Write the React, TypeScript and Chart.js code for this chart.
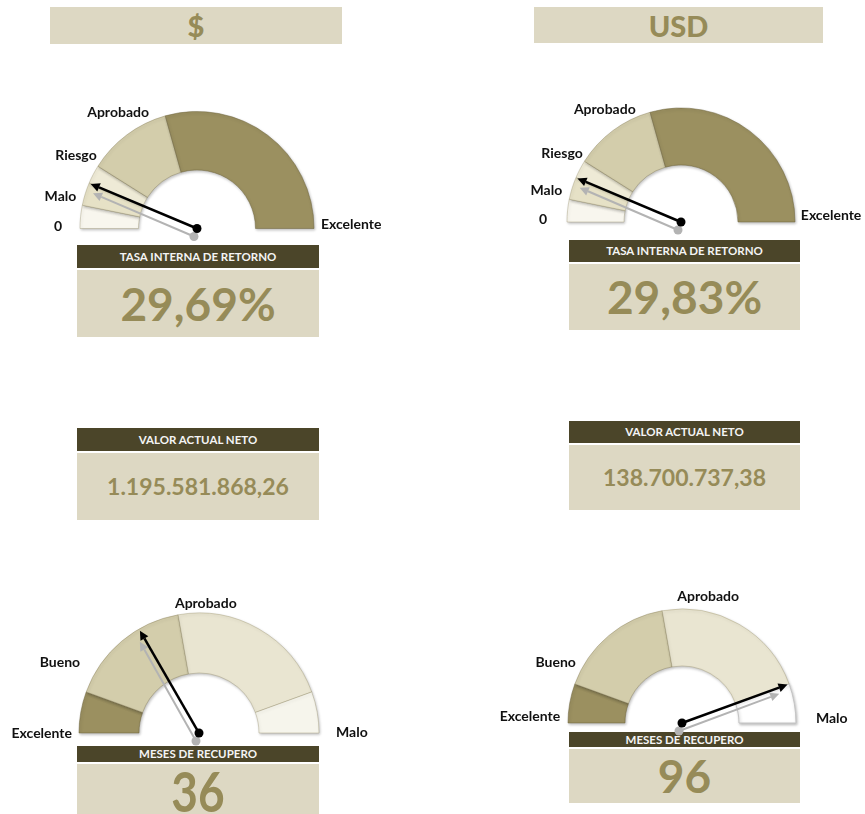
import React, { useEffect, useRef } from 'react';
import { Chart, registerables } from 'chart.js';
Chart.register(...registerables);

// ---------------- data ----------------
const currencyTitles = ['$', 'USD'];
const sectionTitles = ['TASA INTERNA DE RETORNO', 'VALOR ACTUAL NETO', 'MESES DE RECUPERO'];

// TIR gauge: band widths on the gauge scale (%), needle values
const tirBandValues = [15, 15, 12, 55, 138];
const tirBandNames = ['0-Malo', 'Malo', 'Riesgo', 'Aprobado', 'Excelente'];
const tirLabels = ['0', 'Malo', 'Riesgo', 'Aprobado', 'Excelente'];
const tirPesosValue = 29.69;
const tirUsdValue = 29.83;
const tirTexts = ['29,69%', '29,83%'];

// VAN
const vanTexts = ['1.195.581.868,26', '138.700.737,38'];

// Meses de recupero gauge: band widths (months), needle values
const mesesBandValues = [12, 36, 48, 12];
const mesesBandNames = ['Excelente', 'Bueno', 'Aprobado', 'Malo'];
const mesesLabels = ['Excelente', 'Bueno', 'Aprobado', 'Malo'];
const mesesPesosValue = 36;
const mesesUsdValue = 96;
const mesesTexts = ['36', '96'];

// ---------------- styles ----------------
const BOX = '#ddd8c3';
const HEAD = '#4b4529';
const OLIVE = '#968b58';
const FONT = 'Lato, "Open Sans", sans-serif';

const tirColors = ['#f8f6ee', '#e6e1c6', '#eeead6', '#d3cdab', '#9b9060'];
const tirBorders = ['rgba(150,140,100,0.35)', 'rgba(150,140,100,0.35)', 'rgba(150,140,100,0.35)', 'rgba(130,120,80,0.4)', 'rgba(110,100,60,0.5)'];
const mesesColorsL = ['#9b9060', '#d3cdab', '#e9e5d1', '#f6f5ec'];
const mesesColorsR = ['#9b9060', '#d3cdab', '#e9e5d1', '#ffffff'];
const mesesBordersL = ['rgba(110,100,60,0.5)', 'rgba(130,120,80,0.4)', 'rgba(150,140,100,0.35)', 'rgba(150,140,100,0.35)'];
const mesesBordersR = ['rgba(110,100,60,0.5)', 'rgba(130,120,80,0.4)', 'rgba(150,140,100,0.35)', '#c4c4c4'];

// label placement: [angle from left (deg), distance from centre (px)]
const tirPlaceL = [[1, 135], [15, 125], [36, 124], [67.5, 125.5], [178, 124]];
const tirPlaceR = [[1, 134], [15, 123], [35, 120], [68, 121], [177, 120]];
const mesesPlaceL = [[0, 127], [30.5, 138], [93, 130], [179.6, 137]];
const mesesPlaceR = [[3, 122], [29.5, 122], [101.7, 129], [178, 134]];

function drawNeedle(ctx: CanvasRenderingContext2D, x0: number, y0: number, dx: number, dy: number, color: string, lw: number) {
  const len = Math.hypot(dx, dy);
  const ux = dx / len, uy = dy / len;
  const head = 9, hw = 4.5;
  const bx = x0 + dx - ux * head, by = y0 + dy - uy * head;
  ctx.strokeStyle = color;
  ctx.fillStyle = color;
  ctx.lineWidth = lw;
  ctx.beginPath();
  ctx.moveTo(x0, y0);
  ctx.lineTo(bx, by);
  ctx.stroke();
  ctx.beginPath();
  ctx.moveTo(x0 + dx, y0 + dy);
  ctx.lineTo(bx - uy * hw, by + ux * hw);
  ctx.lineTo(bx + uy * hw, by - ux * hw);
  ctx.closePath();
  ctx.fill();
  ctx.beginPath();
  ctx.arc(x0, y0, 4.5, 0, Math.PI * 2);
  ctx.fill();
}

function makeGaugePlugin(value: number, labels: string[], places: number[][]) {
  return {
    id: 'gaugeNeedle',
    beforeDatasetsDraw(chart: any) {
      const c = chart.ctx;
      c.save();
      c.shadowColor = 'rgba(0,0,0,0.25)';
      c.shadowBlur = 3;
      c.shadowOffsetX = 1;
      c.shadowOffsetY = 1.5;
    },
    afterDatasetsDraw(chart: any) {
      const ctx = chart.ctx as CanvasRenderingContext2D;
      ctx.restore();
      const meta = chart.getDatasetMeta(0);
      const arc: any = meta.data[0];
      const cx = arc.x, cy = arc.y, R = arc.outerRadius;
      const data = chart.data.datasets[0].data as number[];
      const total = data.reduce((a, b) => a + b, 0);
      const ang = Math.PI + (value / total) * Math.PI;
      const len = R * 0.985;
      const dx = Math.cos(ang) * len, dy = Math.sin(ang) * len;
      drawNeedle(ctx, cx - 3, cy + 8, dx * 0.95, dy * 0.97, '#b3b3b3', 2);
      drawNeedle(ctx, cx, cy, dx, dy, '#000000', 2.5);
      ctx.font = `bold 14px ${FONT}`;
      ctx.fillStyle = '#111111';
      ctx.textBaseline = 'middle';
      labels.forEach((t, i) => {
        const [deg, dist] = places[i];
        const a = Math.PI + (deg * Math.PI) / 180;
        ctx.textAlign = deg < 85 ? 'right' : deg > 110 ? 'left' : 'center';
        ctx.fillText(t, cx + Math.cos(a) * dist, cy + Math.sin(a) * dist);
      });
    },
  };
}

const CW = 480, CH = 300;

function Gauge(props: {
  cx: number; cy: number; r: number; bands: number[]; names: string[]; colors: string[]; borders: string[];
  value: number; labels: string[]; places: number[][];
}) {
  const ref = useRef<HTMLCanvasElement>(null);
  useEffect(() => {
    const chart = new Chart(ref.current as HTMLCanvasElement, {
      type: 'doughnut',
      data: {
        labels: props.names,
        datasets: [{ data: props.bands, backgroundColor: props.colors, borderColor: props.borders, borderWidth: 1 }],
      },
      options: {
        responsive: false,
        animation: false,
        events: [],
        rotation: -90,
        circumference: 180,
        cutout: '50%',
        radius: props.r,
        layout: { padding: 0 },
        plugins: { legend: { display: false }, tooltip: { enabled: false } },
      } as any,
      plugins: [makeGaugePlugin(props.value, props.labels, props.places) as any],
    });
    return () => chart.destroy();
  }, []);
  return (
    <canvas
      ref={ref}
      width={CW}
      height={CH}
      style={{ position: 'absolute', left: props.cx - CW / 2, top: props.cy - CH / 2 - props.r / 2, width: CW, height: CH }}
    />
  );
}

function Box(p: { x: number; y: number; w: number; h: number; bg: string; color: string; size: number; text: string; transform?: string; weight?: number }) {
  return (
    <div
      style={{
        position: 'absolute', left: p.x, top: p.y, width: p.w, height: p.h, background: p.bg, color: p.color,
        fontFamily: FONT, fontWeight: p.weight || 700, fontSize: p.size, display: 'flex', alignItems: 'center',
        justifyContent: 'center', overflow: 'hidden', lineHeight: 1,
      }}
    >
      <span style={{ display: 'inline-block', transform: p.transform }}>{p.text}</span>
    </div>
  );
}

export default function App() {
  return (
    <div style={{ position: 'absolute', left: 0, top: 0, width: 865, height: 814, overflow: 'hidden', background: '#ffffff' }}>
      <Box x={50} y={7} w={292} h={37} bg={BOX} color={OLIVE} size={29} weight={900} text={currencyTitles[0]} />
      <Box x={534} y={7} w={289} h={36} bg={BOX} color={OLIVE} size={29} weight={900} text={currencyTitles[1]} />

      <Box x={77} y={245} w={242} h={23} bg={HEAD} color="#f4f4f4" size={11.5} text={sectionTitles[0]} />
      <Box x={77} y={270} w={242} h={67} bg={BOX} color={OLIVE} size={46} text={tirTexts[0]} />
      <Box x={569} y={240} w={231} h={22} bg={HEAD} color="#f4f4f4" size={11.5} text={sectionTitles[0]} />
      <Box x={569} y={264} w={231} h={66} bg={BOX} color={OLIVE} size={46} text={tirTexts[1]} />

      <Box x={77} y={428} w={242} h={23} bg={HEAD} color="#f4f4f4" size={11.5} text={sectionTitles[1]} />
      <Box x={77} y={453} w={242} h={67} bg={BOX} color={OLIVE} size={23} text={vanTexts[0]} />
      <Box x={569} y={421} w={231} h={22} bg={HEAD} color="#f4f4f4" size={11.5} text={sectionTitles[1]} />
      <Box x={569} y={445} w={231} h={65} bg={BOX} color={OLIVE} size={23} text={vanTexts[1]} />

      <Box x={77} y={746} w={242} h={16} bg={HEAD} color="#f4f4f4" size={11.5} text={sectionTitles[2]} />
      <Box x={77} y={764} w={242} h={50} bg={BOX} color={OLIVE} size={46} text={mesesTexts[0]} transform="scaleY(1.2) translateY(2px)" />
      <Box x={569} y={732} w={231} h={15} bg={HEAD} color="#f4f4f4" size={11.5} text={sectionTitles[2]} />
      <Box x={569} y={749} w={231} h={54} bg={BOX} color={OLIVE} size={46} text={mesesTexts[1]} />

      <Gauge cx={197} cy={228} r={117} bands={tirBandValues} names={tirBandNames} colors={tirColors} borders={tirBorders}
        value={tirPesosValue} labels={tirLabels} places={tirPlaceL} />
      <Gauge cx={681} cy={222} r={114} bands={tirBandValues} names={tirBandNames} colors={tirColors} borders={tirBorders}
        value={tirUsdValue} labels={tirLabels} places={tirPlaceR} />
      <Gauge cx={199} cy={733} r={120} bands={mesesBandValues} names={mesesBandNames} colors={mesesColorsL} borders={mesesBordersL}
        value={mesesPesosValue} labels={mesesLabels} places={mesesPlaceL} />
      <Gauge cx={682} cy={723} r={114} bands={mesesBandValues} names={mesesBandNames} colors={mesesColorsR} borders={mesesBordersR}
        value={mesesUsdValue} labels={mesesLabels} places={mesesPlaceR} />
    </div>
  );
}
